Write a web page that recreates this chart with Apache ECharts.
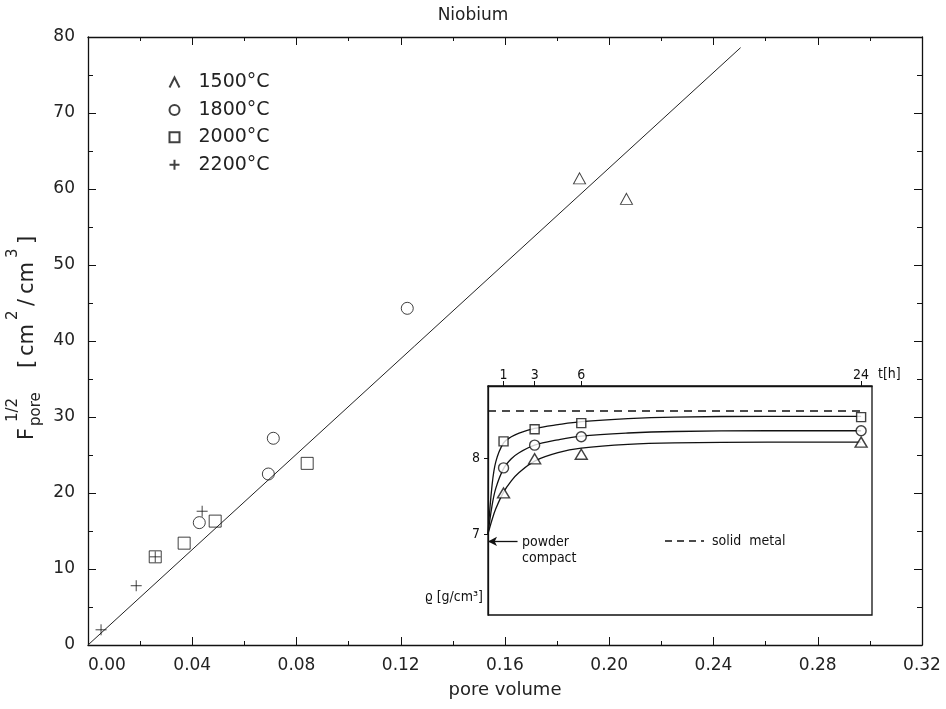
<!DOCTYPE html>
<html><head><meta charset="utf-8">
<script src="https://cdn.jsdelivr.net/npm/echarts@6/dist/echarts.min.js"></script>
<style>html,body{margin:0;padding:0;background:#fff}#c{width:946px;height:709px}</style>
</head><body><div id="c"></div>
<script>
// ---- main chart data (pore volume, F_pore^1/2) ----
const seriesNames = ['1500°C', '1800°C', '2000°C', '2200°C'];
const pts1500 = [[0.1886, 61.4], [0.2066, 58.7]];
const pts1800 = [[0.0427, 16.1], [0.0692, 22.5], [0.0711, 27.2], [0.1225, 44.3]];
const pts2000 = [[0.0258, 11.6], [0.0369, 13.4], [0.0488, 16.3], [0.0841, 23.9]];
const pts2200 = [[0.0050, 2.0], [0.0185, 7.8], [0.0258, 11.6], [0.0438, 17.6]];
const fitLine = [[0, 0], [0.2504, 78.6]];

// ---- inset data (t in h, density g/cm3) ----
const insetHours = [1, 3, 6, 24];
const inset1500 = [7.54, 7.99, 8.05, 8.21];
const inset1800 = [7.87, 8.17, 8.28, 8.36];
const inset2000 = [8.22, 8.38, 8.46, 8.54];
const curveT    = [0, 0.25, 0.5, 1, 1.5, 2, 3, 4.5, 6, 9, 12, 18, 24];
const curve1500 = [7.0, 7.18, 7.33, 7.55, 7.70, 7.81, 7.96, 8.07, 8.13, 8.18, 8.20, 8.21, 8.21];
const curve1800 = [7.0, 7.36, 7.60, 7.86, 7.99, 8.07, 8.17, 8.24, 8.29, 8.33, 8.35, 8.36, 8.36];
const curve2000 = [7.0, 7.62, 7.95, 8.20, 8.28, 8.33, 8.39, 8.44, 8.48, 8.52, 8.54, 8.55, 8.55];
const solidMetal = 8.62;
const powderCompact = 6.9;

const zip = (xs, ys) => xs.map((x, i) => [x, ys[i]]);
const FONT = "'DejaVu Sans', sans-serif";
const NARROW = "'DejaVu Sans Condensed', 'Liberation Sans Narrow', 'DejaVu Sans', sans-serif";
const plusPath = 'path://M0,5L10,5M5,0L5,10';
const caretPath = 'path://M0,10L5,0L10,10';
const stroke = {color: 'none', borderColor: '#111', borderWidth: 1};

const chart = echarts.init(document.getElementById('c'), null, {renderer: 'canvas'});

const axisLine = {show: true, onZero: false, lineStyle: {color: '#111', width: 1.3}};
const mainX = (pos, labels) => ({
  type: 'value', gridIndex: 0, position: pos, min: 0, max: 0.32, interval: 0.04,
  axisLine, splitLine: {show: false},
  axisTick: {show: true, inside: true, length: 8, lineStyle: {color: '#111'}},
  minorTick: {show: true, splitNumber: 2, length: 4, lineStyle: {color: '#111'}},
  axisLabel: labels ? {show: true, formatter: v => v.toFixed(2), margin: 12, fontSize: 17,
    fontFamily: FONT, color: '#222', alignMinLabel: 'left'} : {show: false},
  name: labels ? 'pore volume' : '', nameLocation: 'middle', nameGap: 36,
  nameTextStyle: {fontSize: 18, fontFamily: FONT, color: '#222'}
});
const mainY = (pos, labels) => ({
  type: 'value', gridIndex: 0, position: pos, min: 0, max: 80, interval: 10,
  axisLine, splitLine: {show: false},
  axisTick: {show: true, inside: true, length: 8, lineStyle: {color: '#111'}},
  minorTick: {show: true, splitNumber: 2, length: 5, lineStyle: {color: '#111'}},
  axisLabel: labels ? {show: true, margin: 13, fontSize: 17, fontFamily: FONT, color: '#222'} : {show: false}
});

const option = {
  backgroundColor: '#fff',
  animation: false,
  title: {text: 'Niobium', left: 'center', top: 2,
    textStyle: {fontSize: 17, fontWeight: 'normal', fontFamily: FONT, color: '#222'}},
  legend: {
    orient: 'vertical', left: 162, top: 68, itemWidth: 10, itemHeight: 10, itemGap: 8.4,
    selectedMode: false,
    textStyle: {fontSize: 19, fontFamily: FONT, color: '#222', padding: [0, 0, 0, 14]},
    data: [
      {name: seriesNames[0], icon: caretPath},
      {name: seriesNames[1], icon: 'circle'},
      {name: seriesNames[2], icon: 'rect'},
      {name: seriesNames[3], icon: plusPath}
    ]
  },
  grid: [
    {left: 88, right: 24, top: 37, bottom: 64, show: false},
    {left: 488, top: 386, width: 384, height: 229, show: true, backgroundColor: '#fff',
     borderColor: '#111', borderWidth: 1.3, z: 5}
  ],
  xAxis: [
    mainX('bottom', true),
    mainX('top', false),
    {type: 'value', gridIndex: 1, position: 'top', min: 0, max: 24.7,
     axisLine: {show: true, onZero: false, lineStyle: {color: '#111', width: 1.3}}, splitLine: {show: false},
     axisTick: {show: true, customValues: insetHours, length: 5, lineStyle: {color: '#111'}},
     axisLabel: {show: true, customValues: insetHours, margin: 4, fontSize: 14,
       fontFamily: NARROW, color: '#111'},
     name: 't[h]', nameLocation: 'end', nameGap: 6,
     nameTextStyle: {fontSize: 14, fontFamily: NARROW, color: '#111', verticalAlign: 'bottom', padding: [0, 0, 5, 0]},
     z: 6}
  ],
  yAxis: [
    mainY('left', true),
    mainY('right', false),
    {type: 'value', gridIndex: 1, position: 'left', min: 5.93, max: 8.95,
     axisLine: {show: true, onZero: false, lineStyle: {color: '#111', width: 1.3}}, splitLine: {show: false},
     axisTick: {show: true, customValues: [7, 8], length: 4, lineStyle: {color: '#111'}},
     axisLabel: {show: true, customValues: [7, 8], margin: 8, fontSize: 14,
       fontFamily: NARROW, color: '#111'},
     z: 6}
  ],
  series: [
    {type: 'line', name: 'fit', data: fitLine, xAxisIndex: 0, yAxisIndex: 0, symbol: 'none',
     lineStyle: {color: '#222', width: 1}, silent: true, clip: false, z: 1},
    {type: 'scatter', name: seriesNames[0], data: pts1500, xAxisIndex: 0, yAxisIndex: 0,
     symbol: 'triangle', symbolSize: [12, 11], itemStyle: stroke},
    {type: 'scatter', name: seriesNames[1], data: pts1800, xAxisIndex: 0, yAxisIndex: 0,
     symbol: 'circle', symbolSize: 12, itemStyle: stroke},
    {type: 'scatter', name: seriesNames[2], data: pts2000, xAxisIndex: 0, yAxisIndex: 0,
     symbol: 'rect', symbolSize: 12, itemStyle: stroke},
    {type: 'scatter', name: seriesNames[3], data: pts2200, xAxisIndex: 0, yAxisIndex: 0,
     symbol: plusPath, symbolSize: 11, itemStyle: stroke},
    // inset curves
    {type: 'line', name: 'c1500', data: zip(curveT, curve1500), xAxisIndex: 2, yAxisIndex: 2,
     symbol: 'none', smooth: 0.35, lineStyle: {color: '#111', width: 1.3}, z: 10, silent: true},
    {type: 'line', name: 'c1800', data: zip(curveT, curve1800), xAxisIndex: 2, yAxisIndex: 2,
     symbol: 'none', smooth: 0.35, lineStyle: {color: '#111', width: 1.3}, z: 10, silent: true},
    {type: 'line', name: 'c2000', data: zip(curveT, curve2000), xAxisIndex: 2, yAxisIndex: 2,
     symbol: 'none', smooth: 0.35, lineStyle: {color: '#111', width: 1.3}, z: 10, silent: true,
     markLine: {silent: true, symbol: ['none', 'arrow'], symbolSize: [7, 9], label: {show: false},
       lineStyle: {color: '#111', width: 1.3, type: 'solid'},
       data: [[{coord: [1.9, powderCompact]}, {coord: [0, powderCompact]}]]}},
    {type: 'line', name: 'solid metal', data: [[0, solidMetal], [24, solidMetal]], xAxisIndex: 2, yAxisIndex: 2,
     symbol: 'none', lineStyle: {color: '#111', width: 1.3, type: [8, 6]}, z: 10, silent: true},
    {type: 'scatter', name: 'i1500', data: zip(insetHours, inset1500), xAxisIndex: 2, yAxisIndex: 2,
     symbol: 'triangle', symbolSize: [12, 10], itemStyle: {color: '#fff', borderColor: '#111', borderWidth: 1.4}, z: 11},
    {type: 'scatter', name: 'i1800', data: zip(insetHours, inset1800), xAxisIndex: 2, yAxisIndex: 2,
     symbol: 'circle', symbolSize: 10, itemStyle: {color: '#fff', borderColor: '#111', borderWidth: 1.4}, z: 11},
    {type: 'scatter', name: 'i2000', data: zip(insetHours, inset2000), xAxisIndex: 2, yAxisIndex: 2,
     symbol: 'rect', symbolSize: 9, itemStyle: {color: '#fff', borderColor: '#111', borderWidth: 1.4}, z: 11}
  ]
};
chart.setOption(option);

// ---- text annotations ----
const ax = 33, ay = 440; // baseline start of rotated y-axis title
function piece(text, lx, ly, size) {
  return {type: 'text', x: lx, y: ly, style: {text, font: size + 'px ' + FONT, fill: '#222',
    textAlign: 'left', textVerticalAlign: 'bottom'}};
}
const yTitle = {
  type: 'group', x: ax, y: ay, rotation: Math.PI / 2,
  children: [
    piece('F', 0, 5, 21),
    piece('1/2', 18, -12, 15),
    piece('pore', 14, 11, 15),
    piece('[', 72, 5, 21),
    piece('cm', 84, 5, 21),
    piece('2', 120, -12, 15),
    piece('/', 134, 5, 21),
    piece('cm', 146, 5, 21),
    piece('3', 182, -12, 15),
    piece(']', 196, 5, 21)
  ]
};
chart.setOption({
  graphic: [
    yTitle,
    {type: 'text', x: 522, y: 534, z: 20, style: {text: 'powder\ncompact', font: '14px ' + NARROW,
      fill: '#111', lineHeight: 16, textAlign: 'left', textVerticalAlign: 'top'}},
    {type: 'line', z: 20, shape: {x1: 665, y1: 541, x2: 704, y2: 541},
      style: {stroke: '#111', lineWidth: 1.3, lineDash: [7, 5]}},
    {type: 'text', x: 712, y: 541, z: 20, style: {text: 'solid  metal', font: '14px ' + NARROW,
      fill: '#111', textAlign: 'left', textVerticalAlign: 'middle'}},
    {type: 'text', x: 483, y: 597, z: 20, style: {text: 'ϱ [g/cm³]', font: '14px ' + NARROW,
      fill: '#111', textAlign: 'right', textVerticalAlign: 'middle'}}
  ]
});
</script></body></html>
